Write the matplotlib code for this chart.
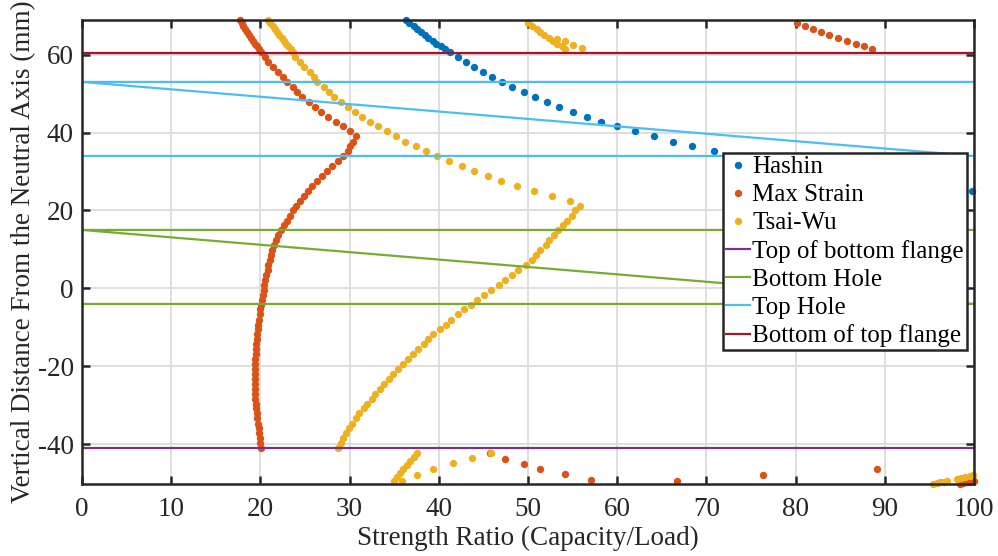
import matplotlib
matplotlib.use('Agg')
import matplotlib.pyplot as plt

# ---------------- data ----------------
# shared web heights (mm)
y_web = [-41.0, -39.7, -38.5, -37.2, -35.9, -34.7, -33.4, -32.1, -30.8, -29.6,
         -28.3, -27.0, -25.8, -24.5, -23.2, -22.0, -20.7, -19.4, -18.1, -16.9,
         -15.6, -14.3, -13.1, -11.8, -10.5, -9.3, -8.0, -6.7, -5.4, -4.2,
         -2.9, -1.6, -0.4, 0.9, 2.2, 3.5, 4.7, 6.0, 7.3, 8.5,
         9.8, 11.1, 12.3, 13.6, 14.9, 16.2, 17.4, 18.7, 20.0, 21.2,
         22.5, 23.8, 25.0, 26.3, 27.6, 28.9, 30.1, 31.4, 32.7, 33.9,
         35.2, 36.5, 37.7, 39.0, 40.3, 41.6, 42.8, 44.1, 45.4, 46.6,
         47.9, 49.2, 50.4, 51.7, 53.0, 54.3, 55.5, 56.8, 58.1, 59.3, 60.6]
# top flange heights (mm)
y_top = [61.35, 62.1, 62.85, 63.6, 64.35, 65.1, 65.85, 66.6, 67.35, 68.1, 68.85]

# Hashin
hashin_y = [68.85, 68.1, 67.35, 66.6, 65.85, 65.1, 64.35, 63.6, 62.85, 62.1, 61.35,
            60.6, 59.3, 58.1, 56.8, 55.5, 54.3, 53.0, 51.7, 50.4, 49.2, 47.9,
            46.6, 45.4, 44.1, 42.8, 41.6, 40.3, 39.0, 37.7, 36.5, 35.2,
            33.9, 32.7, 31.4, 30.1, 28.9, 27.6, 26.3, 25.0]
hashin_x = [36.3, 36.7, 37.2, 37.6, 38.0, 38.4, 38.8, 39.3, 39.7, 40.2, 40.7,
            41.2, 42.2, 43.1, 44.0, 45.0, 46.0, 47.1, 48.2, 49.5, 50.8, 52.1,
            53.5, 55.0, 56.6, 58.2, 60.0, 62.0, 64.1, 66.2, 68.4, 70.9,
            73.7, 76.5, 79.6, 82.9, 86.4, 90.3, 94.8, 99.8]

# Max Strain
ms_web_x = [20.1, 20.0, 19.9, 19.85, 19.8, 19.7, 19.65, 19.6, 19.55, 19.5,
            19.45, 19.4, 19.4, 19.4, 19.4, 19.4, 19.4, 19.4, 19.45, 19.5,
            19.5, 19.55, 19.6, 19.65, 19.7, 19.75, 19.85, 19.9, 20.0, 20.1,
            20.15, 20.25, 20.35, 20.45, 20.55, 20.65, 20.8, 20.9, 21.05, 21.2,
            21.35, 21.55, 21.75, 22.0, 22.3, 22.65, 23.0, 23.35, 23.65, 24.0,
            24.4, 24.85, 25.3, 25.8, 26.3, 26.9, 27.45, 28.0, 28.7, 29.3,
            29.8, 30.0, 30.4, 30.7, 30.1, 29.3, 28.5, 27.6, 26.8, 26.1,
            25.4, 24.7, 24.1, 23.6, 23.0, 22.5, 22.0, 21.4, 20.9, 20.5, 20.1]
ms_top_x = [19.85, 19.6, 19.4, 19.15, 18.95, 18.7, 18.5, 18.3, 18.1, 17.9, 17.7]
ms_topr_y = [61.35, 62.1, 62.85, 63.6, 64.35, 65.1, 65.85, 66.6, 67.35, 68.1]
ms_topr_x = [88.6, 87.7, 86.8, 85.8, 84.8, 83.8, 82.9, 82.0, 81.1, 80.2]
ms_bot_y = [-42.3, -43.8, -45.2, -46.4, -47.7, -49.2, -49.4, -47.9, -46.4,
            -50.3, -50.0, -49.8, -49.6, -49.4]
ms_bot_x = [45.7, 47.4, 49.5, 51.4, 54.1, 57.1, 66.7, 76.4, 89.1,
            98.4, 98.8, 99.2, 99.6, 99.95]

# Tsai-Wu
tw_web_x = [28.7, 29.0, 29.3, 29.6, 29.9, 30.3, 30.7, 31.1, 31.6, 32.0,
            32.5, 32.9, 33.4, 33.9, 34.4, 34.9, 35.4, 36.0, 36.6, 37.1,
            37.7, 38.3, 38.8, 39.4, 40.1, 40.8, 41.4, 42.2, 42.8, 43.6,
            44.3, 45.1, 45.9, 46.7, 47.4, 48.2, 48.9, 49.8, 50.4, 50.9,
            51.4, 52.0, 52.4, 52.9, 53.4, 53.9, 54.4, 54.9, 55.3, 55.8,
            54.7, 52.7, 50.7, 48.8, 47.0, 45.5, 44.0, 42.6, 41.1, 39.8,
            38.6, 37.4, 36.2, 35.2, 34.2, 33.2, 32.3, 31.4, 30.6, 29.8,
            29.0, 28.3, 27.7, 27.1, 26.4, 26.0, 25.6, 24.9, 24.4, 23.9, 23.6]
tw_top_x = [23.4, 23.1, 22.9, 22.6, 22.4, 22.1, 21.9, 21.6, 21.4, 21.1, 20.9]
tw_topr_y = [61.35, 62.1, 62.85, 63.6, 64.35, 65.1, 65.85, 66.6, 67.35, 68.1,
             61.6, 62.6, 63.4, 64.1]
tw_topr_x = [54.2, 53.8, 53.3, 52.8, 52.3, 51.8, 51.4, 51.0, 50.5, 50.0,
             56.1, 55.1, 54.1, 53.2]
tw_bot_y = [-42.2, -43.2, -44.3, -45.3, -46.4, -47.4, -48.5, -49.5,
            -49.4, -47.9, -46.5, -44.9, -43.5, -42.2,
            -50.2, -50.0, -49.8, -49.6, -49.4, -48.9, -48.7, -48.4, -48.2, -47.9]
tw_bot_x = [37.6, 37.2, 36.8, 36.4, 36.0, 35.6, 35.3, 35.0,
            35.9, 37.6, 39.4, 41.6, 43.7, 45.9,
            95.4, 95.8, 96.2, 96.6, 97.0, 98.1, 98.5, 99.0, 99.5, 99.9]

# reference lines
bot_flange_x = [0, 100]
bot_flange_y = [-41.0, -41.0]
bot_hole_x = [100, 0, 100, 0]
bot_hole_y = [15.0, 15.0, -4.0, -4.0]
top_hole_x = [100, 0, 100, 0]
top_hole_y = [53.0, 53.0, 34.0, 34.0]
top_flange_x = [0, 100]
top_flange_y = [60.5, 60.5]

x_ticks = [0, 10, 20, 30, 40, 50, 60, 70, 80, 90, 100]
y_ticks = [-40, -20, 0, 20, 40, 60]

# ---------------- plotting ----------------
plt.rcParams['font.family'] = ['Liberation Serif', 'DejaVu Serif']
plt.rcParams['axes.unicode_minus'] = False
TXT = '#262626'
FS = 19.5
LFS = 18

fig = plt.figure(figsize=(9.98, 5.56), dpi=100)
ax = fig.add_axes([82 / 998, 1 - 484.3 / 556, (974 - 82) / 998, (484.3 - 20) / 556])

ms_x = ms_web_x + ms_top_x + ms_topr_x + ms_bot_x
ms_y = y_web + y_top + ms_topr_y + ms_bot_y
tw_x = tw_web_x + tw_top_x + tw_topr_x + tw_bot_x
tw_y = y_web + y_top + tw_topr_y + tw_bot_y

mk = dict(linestyle='none', marker='o', markersize=5.3, markeredgewidth=0, clip_on=False)
ax.plot(hashin_x, hashin_y, color='#0072BD', label='Hashin', **mk)
ax.plot(ms_x, ms_y, color='#D95319', label='Max Strain', **mk)
ax.plot(tw_x, tw_y, color='#EDB120', label='Tsai-Wu', **mk)

lw = 1.6
ax.plot(bot_flange_x, bot_flange_y, color='#7E2F8E', lw=lw, label='Top of bottom flange')
ax.plot(bot_hole_x, bot_hole_y, color='#77AC30', lw=lw, label='Bottom Hole')
ax.plot(top_hole_x, top_hole_y, color='#4DBEEE', lw=lw, label='Top Hole')
ax.plot(top_flange_x, top_flange_y, color='#A2142F', lw=lw, label='Bottom of top flange')

ax.set_xlim(0, 100)
ax.set_ylim(-50.3, 68.9)
ax.set_xticks(x_ticks)
ax.set_yticks(y_ticks)
ax.grid(True, color='#dcdcdc', lw=1.3)
ax.set_axisbelow(True)

for s in ax.spines.values():
    s.set_linewidth(1.8)
    s.set_color(TXT)
ax.tick_params(direction='in', length=6, width=1.8, colors=TXT, labelsize=FS,
               top=True, right=True)
ax.tick_params(axis='x', pad=9)
ax.tick_params(axis='y', pad=6)

ax.set_xlabel('Strength Ratio (Capacity/Load)', fontsize=FS, color=TXT, labelpad=3)
ax.set_ylabel('Vertical Distance From the Neutral Axis (mm)', fontsize=FS, color=TXT, labelpad=1)

leg = ax.legend(loc='upper right', bbox_to_anchor=(0.992, 0.714), borderaxespad=0,
                fontsize=LFS, frameon=True, fancybox=False, framealpha=1,
                edgecolor='#262626', borderpad=0.12, labelspacing=0.22,
                handlelength=0.95, handletextpad=0.1, markerscale=1.0,
                numpoints=1)
leg.get_frame().set_linewidth(1.8)
for t in leg.get_texts():
    t.set_color('black')

fig.savefig('out.png', dpi=100)
